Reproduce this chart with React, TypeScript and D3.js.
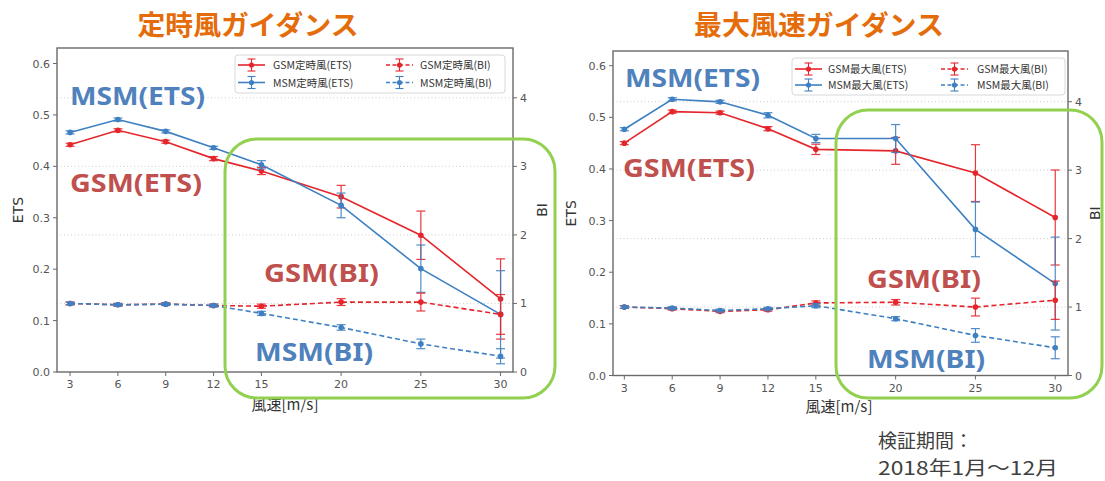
import React from "react";
import * as d3 from "d3";

// ---------- data ----------
const WIND = [3, 6, 9, 12, 15, 20, 25, 30];
const X_TICKS = [3, 6, 9, 12, 15, 20, 25, 30];
const ETS_TICKS = [0, 0.1, 0.2, 0.3, 0.4, 0.5, 0.6];
const BI_TICKS = [0, 1, 2, 3, 4];

// 定時風
const TEIJI_GSM_ETS = [0.442, 0.47, 0.448, 0.415, 0.391, 0.341, 0.266, 0.142];
const TEIJI_GSM_ETS_ERR = [0.003, 0.003, 0.003, 0.004, 0.007, 0.022, 0.047, 0.078];
const TEIJI_MSM_ETS = [0.466, 0.491, 0.468, 0.436, 0.403, 0.324, 0.201, 0.112];
const TEIJI_MSM_ETS_ERR = [0.003, 0.003, 0.003, 0.003, 0.008, 0.024, 0.046, 0.085];
const TEIJI_GSM_BI = [1.0, 0.98, 0.99, 0.97, 0.96, 1.02, 1.02, 0.84];
const TEIJI_GSM_BI_ERR = [0.02, 0.02, 0.02, 0.02, 0.03, 0.05, 0.13, 0.29];
const TEIJI_MSM_BI = [1.0, 0.98, 0.99, 0.97, 0.855, 0.65, 0.41, 0.23];
const TEIJI_MSM_BI_ERR = [0.02, 0.02, 0.02, 0.02, 0.03, 0.04, 0.07, 0.11];

// 最大風
const MAX_GSM_ETS = [0.45, 0.511, 0.509, 0.478, 0.438, 0.435, 0.392, 0.306];
const MAX_GSM_ETS_ERR = [0.003, 0.003, 0.003, 0.004, 0.01, 0.026, 0.055, 0.092];
const MAX_MSM_ETS = [0.477, 0.535, 0.53, 0.504, 0.459, 0.459, 0.283, 0.178];
const MAX_MSM_ETS_ERR = [0.003, 0.003, 0.003, 0.005, 0.008, 0.027, 0.053, 0.09];
const MAX_GSM_BI = [1.0, 0.976, 0.937, 0.96, 1.06, 1.07, 1.0, 1.1];
const MAX_GSM_BI_ERR = [0.02, 0.02, 0.02, 0.02, 0.03, 0.04, 0.13, 0.28];
const MAX_MSM_BI = [1.0, 0.985, 0.95, 0.975, 1.02, 0.83, 0.585, 0.405];
const MAX_MSM_BI_ERR = [0.02, 0.02, 0.02, 0.02, 0.03, 0.03, 0.1, 0.16];

const TEIJI_LEGEND = ["GSM定時風(ETS)", "MSM定時風(ETS)", "GSM定時風(BI)", "MSM定時風(BI)"];
const MAX_LEGEND = ["GSM最大風(ETS)", "MSM最大風(ETS)", "GSM最大風(BI)", "MSM最大風(BI)"];

// ---------- styles ----------
const RED = "#e5252c";
const BLUE = "#3e80c2";
const ANN_RED = "#c0504d";
const ANN_BLUE = "#4f81bd";
const GREEN = "#92d050";
const ORANGE = "#e46c0a";
const TICK_FONT = "'DejaVu Sans', sans-serif";
const JP_FONT = "'Noto Sans CJK JP', 'Noto Sans', sans-serif";

type Series = { v: number[]; e: number[]; color: string; dashed: boolean; axis: "ets" | "bi" };

type Ann = { text: string; x: number; y: number; w: number; color: string };

type ChartProps = {
  left: number; top: number; right: number; bottom: number;
  xDomain: [number, number];
  etsAt06: number; biAt4: number;
  series: Series[];
  legend: string[];
  legendBox: { x: number; y: number; w: number; h: number; r1: number; r2: number; h1: number; t1: number; h2: number; t2: number };
  anns: Ann[];
  etsLabelX: number; biLabelX: number; xLabelX: number; xLabelY: number;
  green: { x: number; y: number; w: number; h: number };
};

function LegendHandle({ x0, x1, y, color, dashed }: { x0: number; x1: number; y: number; color: string; dashed: boolean }) {
  const cx = (x0 + x1) / 2;
  return (
    <g>
      <line x1={x0} x2={x1} y1={y} y2={y} stroke={color} strokeWidth={1.6} strokeDasharray={dashed ? "4,2.5" : undefined} />
      <line x1={cx} x2={cx} y1={y - 6} y2={y + 6} stroke={color} strokeWidth={1.1} />
      <line x1={cx - 4} x2={cx + 4} y1={y - 6} y2={y - 6} stroke={color} strokeWidth={1.1} />
      <line x1={cx - 4} x2={cx + 4} y1={y + 6} y2={y + 6} stroke={color} strokeWidth={1.1} />
      <circle cx={cx} cy={y} r={2.6} fill={color} />
    </g>
  );
}

function Chart(p: ChartProps) {
  const x = d3.scaleLinear().domain(p.xDomain).range([p.left, p.right]);
  const etsPer = (p.bottom - p.etsAt06) / 0.6;
  const biPer = (p.bottom - p.biAt4) / 4;
  const yE = d3.scaleLinear().domain([0, (p.bottom - p.top) / etsPer]).range([p.bottom, p.top]);
  const yB = d3.scaleLinear().domain([0, (p.bottom - p.top) / biPer]).range([p.bottom, p.top]);
  const lb = p.legendBox;
  const handles = [
    { hx: lb.h1, tx: lb.t1, y: lb.r1, s: p.series[0], label: p.legend[0] },
    { hx: lb.h1, tx: lb.t1, y: lb.r2, s: p.series[1], label: p.legend[1] },
    { hx: lb.h2, tx: lb.t2, y: lb.r1, s: p.series[2], label: p.legend[2] },
    { hx: lb.h2, tx: lb.t2, y: lb.r2, s: p.series[3], label: p.legend[3] },
  ];
  return (
    <g>
      {/* grid (BI) */}
      {BI_TICKS.filter((t) => t > 0).map((t) => (
        <line key={"g" + t} x1={p.left} x2={p.right} y1={yB(t)} y2={yB(t)} stroke="#c8c8c8" strokeWidth={0.9} strokeDasharray="1,2.5" />
      ))}
      {/* series */}
      {p.series.map((s, i) => {
        const y = s.axis === "ets" ? yE : yB;
        const line = d3.line<number>().x((_, j) => x(WIND[j])).y((d) => y(d));
        return (
          <g key={"s" + i}>
            {s.v.map((v, j) => {
              const cx = x(WIND[j]);
              const ya = y(v + s.e[j]);
              const yb = y(v - s.e[j]);
              return (
                <g key={j} stroke={s.color} strokeWidth={1.2} opacity={0.9}>
                  <line x1={cx} x2={cx} y1={ya} y2={yb} />
                  <line x1={cx - 4.5} x2={cx + 4.5} y1={ya} y2={ya} />
                  <line x1={cx - 4.5} x2={cx + 4.5} y1={yb} y2={yb} />
                </g>
              );
            })}
            <path d={line(s.v) || ""} fill="none" stroke={s.color} strokeWidth={1.6} strokeDasharray={s.dashed ? "5,3" : undefined} />
            {s.v.map((v, j) => (
              <circle key={"m" + j} cx={x(WIND[j])} cy={y(v)} r={2.8} fill={s.color} />
            ))}
          </g>
        );
      })}
      {/* frame */}
      <rect x={p.left} y={p.top} width={p.right - p.left} height={p.bottom - p.top} fill="none" stroke="#6a6a6a" strokeWidth={1.4} />
      {/* x ticks */}
      {X_TICKS.map((t) => (
        <g key={"x" + t}>
          <line x1={x(t)} x2={x(t)} y1={p.bottom} y2={p.bottom + 4} stroke="#6a6a6a" strokeWidth={1} />
          <text x={x(t)} y={p.bottom + 16} fontSize={11} fill="#555" textAnchor="middle" fontFamily={TICK_FONT}>{t}</text>
        </g>
      ))}
      {/* ETS ticks */}
      {ETS_TICKS.map((t) => (
        <g key={"e" + t}>
          <line x1={p.left - 4} x2={p.left} y1={yE(t)} y2={yE(t)} stroke="#6a6a6a" strokeWidth={1} />
          <text x={p.left - 7} y={yE(t) + 4} fontSize={11} fill="#555" textAnchor="end" fontFamily={TICK_FONT}>{t.toFixed(1)}</text>
        </g>
      ))}
      {/* BI ticks */}
      {BI_TICKS.map((t) => (
        <g key={"b" + t}>
          <line x1={p.right} x2={p.right + 4} y1={yB(t)} y2={yB(t)} stroke="#6a6a6a" strokeWidth={1} />
          <text x={p.right + 7} y={yB(t) + 4} fontSize={11} fill="#555" textAnchor="start" fontFamily={TICK_FONT}>{t}</text>
        </g>
      ))}
      {/* axis labels */}
      <text transform={`translate(${p.etsLabelX},${(p.top + p.bottom) / 2}) rotate(-90)`} fontSize={14} fill="#333" textAnchor="middle" fontFamily={TICK_FONT}>ETS</text>
      <text transform={`translate(${p.biLabelX},${(p.top + p.bottom) / 2}) rotate(-90)`} fontSize={14} fill="#333" textAnchor="middle" fontFamily={TICK_FONT}>BI</text>
      <text x={p.xLabelX} y={p.xLabelY} fontSize={15} fill="#333" textAnchor="middle" fontFamily={JP_FONT}>風速[m/s]</text>
      {/* legend */}
      <rect x={lb.x} y={lb.y} width={lb.w} height={lb.h} rx={3} fill="white" fillOpacity={0.85} stroke="#d8d8d8" strokeWidth={1} />
      {handles.map((h, i) => (
        <g key={"l" + i}>
          <LegendHandle x0={h.hx} x1={h.hx + 27} y={h.y} color={h.s.color} dashed={h.s.dashed} />
          <text x={h.tx} y={h.y + 4} fontSize={10.5} fill="#333" fontFamily={JP_FONT}>{h.label}</text>
        </g>
      ))}
      {/* annotations */}
      {p.anns.map((a, i) => (
        <text key={"a" + i} x={a.x} y={a.y} fontSize={25} fontWeight={700} fill={a.color} fontFamily="'Noto Sans', 'Open Sans', sans-serif" textLength={a.w} lengthAdjust="spacingAndGlyphs">{a.text}</text>
      ))}
      {/* green highlight */}
      <rect x={p.green.x} y={p.green.y} width={p.green.w} height={p.green.h} rx={32} ry={32} fill="none" stroke={GREEN} strokeWidth={3} />
    </g>
  );
}

export default function App() {
  const teijiSeries: Series[] = [
    { v: TEIJI_GSM_ETS, e: TEIJI_GSM_ETS_ERR, color: RED, dashed: false, axis: "ets" },
    { v: TEIJI_MSM_ETS, e: TEIJI_MSM_ETS_ERR, color: BLUE, dashed: false, axis: "ets" },
    { v: TEIJI_GSM_BI, e: TEIJI_GSM_BI_ERR, color: RED, dashed: true, axis: "bi" },
    { v: TEIJI_MSM_BI, e: TEIJI_MSM_BI_ERR, color: BLUE, dashed: true, axis: "bi" },
  ];
  const maxSeries: Series[] = [
    { v: MAX_GSM_ETS, e: MAX_GSM_ETS_ERR, color: RED, dashed: false, axis: "ets" },
    { v: MAX_MSM_ETS, e: MAX_MSM_ETS_ERR, color: BLUE, dashed: false, axis: "ets" },
    { v: MAX_GSM_BI, e: MAX_GSM_BI_ERR, color: RED, dashed: true, axis: "bi" },
    { v: MAX_MSM_BI, e: MAX_MSM_BI_ERR, color: BLUE, dashed: true, axis: "bi" },
  ];
  return (
    <svg width={1105} height={481} style={{ position: "absolute", left: 0, top: 0, background: "white" }}>
      <rect x={0} y={0} width={1105} height={481} fill="white" />
      <text x={248} y={35} fontSize={27} fontWeight={700} fill={ORANGE} textAnchor="middle" fontFamily={JP_FONT} textLength={221} lengthAdjust="spacingAndGlyphs">定時風ガイダンス</text>
      <text x={819} y={35} fontSize={27} fontWeight={700} fill={ORANGE} textAnchor="middle" fontFamily={JP_FONT} textLength={250} lengthAdjust="spacingAndGlyphs">最大風速ガイダンス</text>
      <Chart
        left={57} top={48} right={513} bottom={372}
        xDomain={[2.18, 30.78]}
        etsAt06={63.5} biAt4={97.8}
        series={teijiSeries}
        legend={TEIJI_LEGEND}
        legendBox={{ x: 235, y: 55, w: 270, h: 38, r1: 65, r2: 82.5, h1: 238, t1: 273, h2: 386, t2: 420 }}
        anns={[
          { text: "MSM(ETS)", x: 70, y: 105, w: 135, color: ANN_BLUE },
          { text: "GSM(ETS)", x: 70, y: 192, w: 132, color: ANN_RED },
          { text: "GSM(BI)", x: 264, y: 282, w: 115, color: ANN_RED },
          { text: "MSM(BI)", x: 255, y: 361, w: 118, color: ANN_BLUE },
        ]}
        etsLabelX={23} biLabelX={547} xLabelX={285} xLabelY={410}
        green={{ x: 225, y: 139, w: 330, h: 259 }}
      />
      <Chart
        left={613} top={51} right={1068} bottom={375.5}
        xDomain={[2.29, 30.8]}
        etsAt06={65.7} biAt4={101.7}
        series={maxSeries}
        legend={MAX_LEGEND}
        legendBox={{ x: 792, y: 58, w: 273, h: 37, r1: 69, r2: 85, h1: 795, t1: 828, h2: 941, t2: 977 }}
        anns={[
          { text: "MSM(ETS)", x: 625, y: 87, w: 135, color: ANN_BLUE },
          { text: "GSM(ETS)", x: 623, y: 177, w: 132, color: ANN_RED },
          { text: "GSM(BI)", x: 867, y: 288, w: 114, color: ANN_RED },
          { text: "MSM(BI)", x: 867, y: 368, w: 118, color: ANN_BLUE },
        ]}
        etsLabelX={576} biLabelX={1100} xLabelX={839} xLabelY={412}
        green={{ x: 836, y: 110, w: 266, h: 288 }}
      />
      <text x={878} y={448} fontSize={19} fill="#404040" fontFamily={JP_FONT}>検証期間：</text>
      <text x={878} y={475} fontSize={19} fill="#404040" fontFamily={JP_FONT} textLength={180} lengthAdjust="spacingAndGlyphs">2018年1月～12月</text>
    </svg>
  );
}
